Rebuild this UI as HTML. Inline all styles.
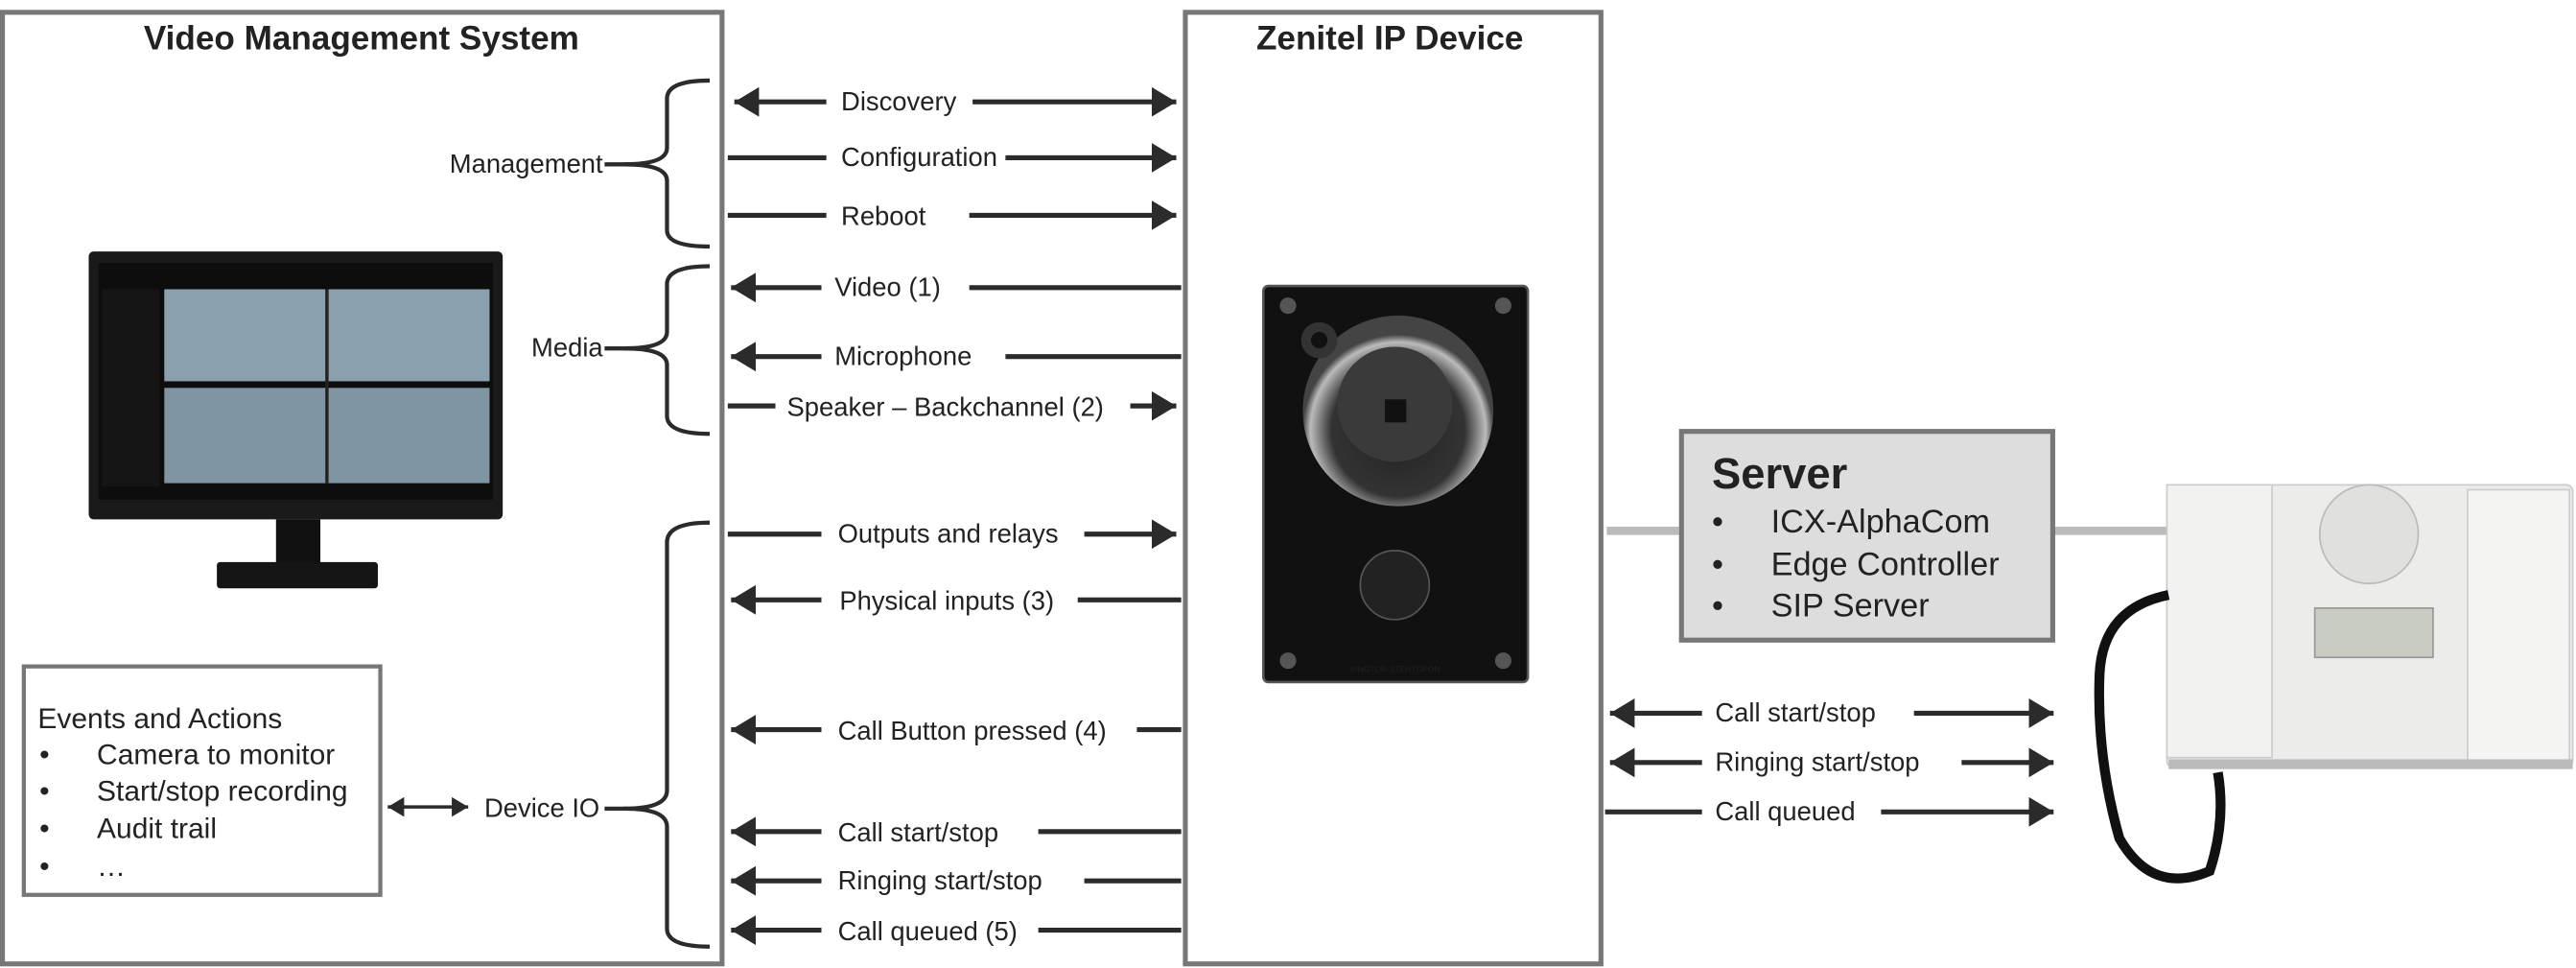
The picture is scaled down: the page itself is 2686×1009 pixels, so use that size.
<!DOCTYPE html>
<html><head><meta charset="utf-8"><style>
html,body{margin:0;padding:0;background:#fff;width:2686px;height:1009px;overflow:hidden}
svg{display:block}
text{font-family:"Liberation Sans",Arial,sans-serif;fill:#222}
</style></head><body>
<svg width="2686" height="1009" viewBox="0 0 1568 589" preserveAspectRatio="none" xmlns="http://www.w3.org/2000/svg">
<defs>
<marker id="ah" markerWidth="6" markerHeight="6" refX="5" refY="3" orient="auto" markerUnits="strokeWidth"><path d="M0,0 L5,3 L0,6 z" fill="#2b2b2b"/></marker>
<marker id="ahs" markerWidth="6" markerHeight="6" refX="1" refY="3" orient="auto" markerUnits="strokeWidth"><path d="M6,0 L1,3 L6,6 z" fill="#2b2b2b"/></marker>
<radialGradient id="spk" cx="50%" cy="60%" r="50%"><stop offset="0" stop-color="#222"/><stop offset="0.7" stop-color="#333"/><stop offset="0.92" stop-color="#bbb"/><stop offset="1" stop-color="#444"/></radialGradient>
</defs>
<rect x="1.5" y="7.5" width="438" height="579" fill="none" stroke="#777" stroke-width="3"/>
<rect x="721.5" y="7.5" width="253" height="579" fill="none" stroke="#777" stroke-width="3"/>
<text x="220" y="30" font-size="20.5" font-weight="bold" text-anchor="middle" fill="#333">Video Management System</text>
<text x="846" y="30" font-size="20.5" font-weight="bold" text-anchor="middle" fill="#333">Zenitel IP Device</text>

<g stroke="#2b2b2b" stroke-width="3" fill="none">
<line x1="447" y1="62" x2="503" y2="62" marker-start="url(#ahs)"/><line x1="592" y1="62" x2="716" y2="62" marker-end="url(#ah)"/>
<line x1="443" y1="96" x2="503" y2="96"/><line x1="612" y1="96" x2="716" y2="96" marker-end="url(#ah)"/>
<line x1="443" y1="131" x2="503" y2="131"/><line x1="590" y1="131" x2="716" y2="131" marker-end="url(#ah)"/>
<line x1="445" y1="175" x2="500" y2="175" marker-start="url(#ahs)"/><line x1="590" y1="175" x2="719" y2="175"/>
<line x1="445" y1="217" x2="500" y2="217" marker-start="url(#ahs)"/><line x1="612" y1="217" x2="719" y2="217"/>
<line x1="443" y1="247" x2="472" y2="247"/><line x1="688" y1="247" x2="716" y2="247" marker-end="url(#ah)"/>
<line x1="443" y1="325" x2="500" y2="325"/><line x1="660" y1="325" x2="716" y2="325" marker-end="url(#ah)"/>
<line x1="445" y1="365" x2="500" y2="365" marker-start="url(#ahs)"/><line x1="656" y1="365" x2="719" y2="365"/>
<line x1="445" y1="444" x2="500" y2="444" marker-start="url(#ahs)"/><line x1="692" y1="444" x2="719" y2="444"/>
<line x1="445" y1="506" x2="500" y2="506" marker-start="url(#ahs)"/><line x1="632" y1="506" x2="719" y2="506"/>
<line x1="445" y1="536" x2="500" y2="536" marker-start="url(#ahs)"/><line x1="660" y1="536" x2="719" y2="536"/>
<line x1="445" y1="566" x2="500" y2="566" marker-start="url(#ahs)"/><line x1="632" y1="566" x2="719" y2="566"/>
<line x1="980" y1="434" x2="1036" y2="434" marker-start="url(#ahs)"/><line x1="1165" y1="434" x2="1250" y2="434" marker-end="url(#ah)"/>
<line x1="980" y1="464" x2="1036" y2="464" marker-start="url(#ahs)"/><line x1="1194" y1="464" x2="1250" y2="464" marker-end="url(#ah)"/>
<line x1="977" y1="494" x2="1036" y2="494"/><line x1="1145" y1="494" x2="1250" y2="494" marker-end="url(#ah)"/>
<line x1="236" y1="491" x2="285" y2="491" stroke-width="2" marker-start="url(#ahs)" marker-end="url(#ah)"/>
<path d="M432,49 Q406,49 406,60 L406,90 Q406,100 380,100 Q406,100 406,110 L406,140 Q406,150 432,150" stroke-width="2.5"/>
<line x1="368" y1="100" x2="382" y2="100" stroke-width="2.5"/>
<path d="M432,162 Q406,162 406,173 L406,202 Q406,212 380,212 Q406,212 406,222 L406,253 Q406,264 432,264" stroke-width="2.5"/>
<line x1="368" y1="212" x2="382" y2="212" stroke-width="2.5"/>
<path d="M432,318 Q406,318 406,330 L406,481 Q406,492 380,492 Q406,492 406,503 L406,565 Q406,576 432,576" stroke-width="2.5"/>
<line x1="368" y1="492" x2="382" y2="492" stroke-width="2.5"/>
</g>

<g font-size="16">
<text x="512" y="67">Discovery</text>
<text x="512" y="101">Configuration</text>
<text x="512" y="137">Reboot</text>
<text x="508" y="180">Video (1)</text>
<text x="508" y="222">Microphone</text>
<text x="479" y="253">Speaker – Backchannel (2)</text>
<text x="510" y="330">Outputs and relays</text>
<text x="511" y="371">Physical inputs (3)</text>
<text x="510" y="450">Call Button pressed (4)</text>
<text x="510" y="512">Call start/stop</text>
<text x="510" y="541">Ringing start/stop</text>
<text x="510" y="572">Call queued (5)</text>
<text x="1044" y="439">Call start/stop</text>
<text x="1044" y="469">Ringing start/stop</text>
<text x="1044" y="499">Call queued</text>
<text x="367" y="105" text-anchor="end">Management</text>
<text x="367" y="217" text-anchor="end">Media</text>
<text x="365" y="497" text-anchor="end">Device IO</text>
</g>

<rect x="14.5" y="405.5" width="217" height="139" fill="#fff" stroke="#777" stroke-width="2.5"/>
<g font-size="17.5">
<text x="23" y="443">Events and Actions</text>
<text x="24" y="465">•</text><text x="59" y="465">Camera to monitor</text>
<text x="24" y="487">•</text><text x="59" y="487">Start/stop recording</text>
<text x="24" y="510">•</text><text x="59" y="510">Audit trail</text>
<text x="24" y="533">•</text><text x="59" y="533">…</text>
</g>

<rect x="54" y="153" width="252" height="163" rx="3" fill="#1a1a1a"/>
<rect x="60" y="160" width="240" height="144" fill="#0d0d0d"/>
<rect x="100" y="176" width="198" height="56" fill="#8aa0ae"/>
<rect x="100" y="236" width="198" height="58" fill="#7f95a3"/>
<line x1="199" y1="176" x2="199" y2="294" stroke="#222" stroke-width="2"/>
<rect x="62" y="176" width="35" height="120" fill="#151515"/>
<rect x="168" y="316" width="27" height="28" fill="#111"/>
<rect x="132" y="342" width="98" height="16" rx="2" fill="#151515"/>

<rect x="769" y="174" width="161" height="241" rx="3" fill="#111" stroke="#555" stroke-width="1.5"/>
<circle cx="851" cy="250" r="58" fill="url(#spk)"/>
<circle cx="849" cy="246" r="35" fill="#3a3a3a"/>
<rect x="843" y="243" width="13" height="14" fill="#111"/>
<circle cx="803" cy="207" r="11" fill="#333"/><circle cx="803" cy="207" r="5" fill="#111"/>
<circle cx="849" cy="356" r="21" fill="#222" stroke="#555"/>
<circle cx="784" cy="186" r="5" fill="#555"/><circle cx="915" cy="186" r="5" fill="#555"/>
<circle cx="784" cy="402" r="5" fill="#555"/><circle cx="915" cy="402" r="5" fill="#555"/>
<text x="849" y="409" font-size="5" text-anchor="middle" fill="#aaa">VINGTOR·STENTOFON</text>

<line x1="978" y1="323" x2="1022" y2="323" stroke="#bbb" stroke-width="5"/>
<line x1="1250" y1="323" x2="1322" y2="323" stroke="#bbb" stroke-width="5"/>
<rect x="1023.5" y="262.5" width="226" height="127" fill="#ddd" stroke="#777" stroke-width="3"/>
<text x="1042" y="297" font-size="26.5" font-weight="bold" fill="#333">Server</text>
<g font-size="20" fill="#333">
<text x="1042" y="324">•</text><text x="1078" y="324">ICX-AlphaCom</text>
<text x="1042" y="350">•</text><text x="1078" y="350">Edge Controller</text>
<text x="1042" y="375">•</text><text x="1078" y="375">SIP Server</text>
</g>

<rect x="1319" y="295" width="247" height="172" rx="4" fill="#ececea" stroke="#ccc"/>
<rect x="1319" y="295" width="64" height="166" fill="#f2f2f0" stroke="#ccc"/>
<rect x="1502" y="298" width="62" height="166" fill="#f4f4f2" stroke="#ccc"/>
<circle cx="1442" cy="325" r="30" fill="#e0e0de" stroke="#bbb"/>
<rect x="1409" y="370" width="72" height="30" fill="#c9ccc2" stroke="#999"/>
<rect x="1320" y="462" width="246" height="6" fill="#bbb"/>
<path d="M1320,362 Q1280,370 1278,410 Q1276,460 1290,510 Q1310,545 1345,530 Q1355,500 1350,470" fill="none" stroke="#111" stroke-width="6"/>
</svg>
</body></html>
